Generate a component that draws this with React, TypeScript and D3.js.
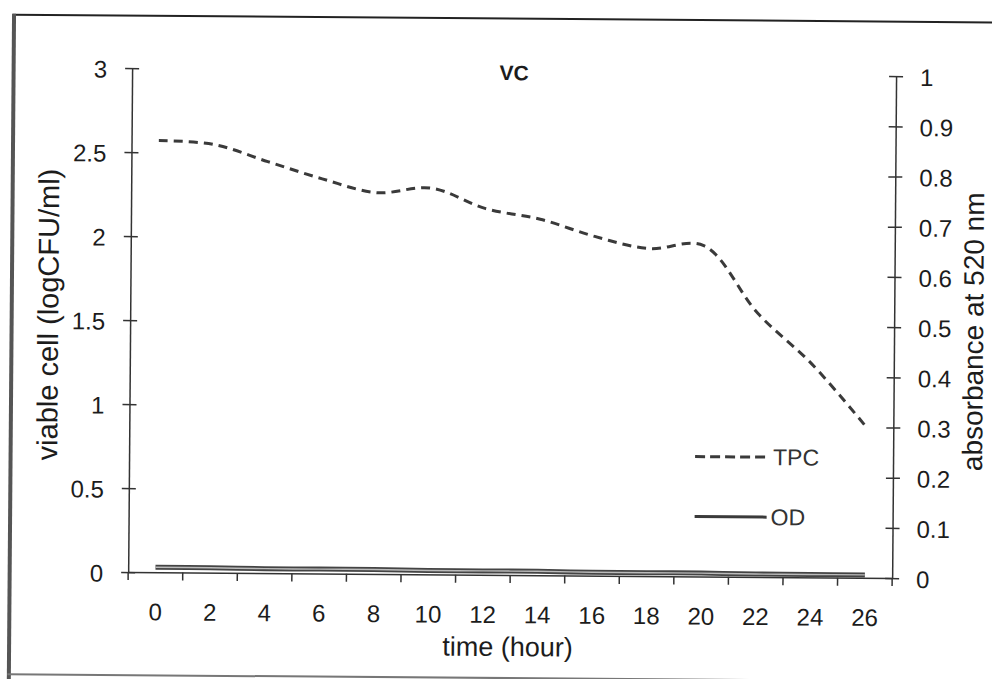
import React, { useEffect, useRef } from "react";
import * as d3 from "d3";

// time (hour) categories
const hours = [0, 2, 4, 6, 8, 10, 12, 14, 16, 18, 20, 22, 24, 26];
// TPC, viable cell (logCFU/ml), left axis
const tpc = [2.57, 2.55, 2.45, 2.35, 2.27, 2.3, 2.18, 2.12, 2.02, 1.95, 1.97, 1.57, 1.27, 0.9];
// OD, absorbance at 520 nm, right axis
const od = [0.01, 0.01, 0.009, 0.009, 0.009, 0.008, 0.008, 0.008, 0.007, 0.007, 0.007, 0.006, 0.006, 0.006];

const leftTicks = [0, 0.5, 1, 1.5, 2, 2.5, 3];
const rightTicks = [0, 0.1, 0.2, 0.3, 0.4, 0.5, 0.6, 0.7, 0.8, 0.9, 1];

const font = "'Liberation Sans', Arial, sans-serif";
const ink = "#1c1c1c";

export default function App() {
  const svgRef = useRef<SVGSVGElement>(null);

  useEffect(() => {
    const width = 992;
    const height = 679;
    const left = 130;
    const right = 894;
    const bottom = 575;

    const svg = d3.select(svgRef.current);
    svg.selectAll("*").remove();
    svg.attr("width", width).attr("height", height);

    svg.append("rect").attr("width", width).attr("height", height).attr("fill", "#fff");

    // the scanned figure is slightly rotated
    const g = svg.append("g").attr("transform", "rotate(0.45 496 340)");

    // frame
    g.append("line").attr("x1", 10).attr("x2", 1010).attr("y1", 18.5).attr("y2", 18.5)
      .attr("stroke", "#222").attr("stroke-width", 2);
    g.append("line").attr("x1", 11.5).attr("x2", 11.5).attr("y1", 17.5).attr("y2", 690)
      .attr("stroke", "#555").attr("stroke-width", 4);
    g.append("line").attr("x1", 10).attr("x2", 1010).attr("y1", 678).attr("y2", 678)
      .attr("stroke", "#777").attr("stroke-width", 2);

    const x = d3.scaleBand<string>().domain(hours.map(String)).range([left, right]);
    const bw = x.bandwidth();
    const yL = d3.scaleLinear().domain([0, 3]).range([bottom, 71]);
    const yR = d3.scaleLinear().domain([0, 1]).range([bottom, 73]);

    // left axis
    const gl = g.append("g").attr("transform", `translate(${left},0)`)
      .call(d3.axisLeft(yL).tickValues(leftTicks).tickSize(7).tickSizeOuter(0).tickPadding(18)
        .tickFormat(d3.format("~g")));
    gl.select(".domain").attr("stroke", "#333").attr("stroke-width", 1.5);
    gl.selectAll(".tick line").attr("x1", 7).attr("x2", -7).attr("stroke", "#333").attr("stroke-width", 1.5);
    gl.selectAll(".tick text").attr("font-size", 24).attr("font-family", font).attr("fill", ink).attr("dy", "0.38em");

    // right axis
    const gr = g.append("g").attr("transform", `translate(${right},0)`)
      .call(d3.axisRight(yR).tickValues(rightTicks).tickSize(7).tickSizeOuter(0).tickPadding(17)
        .tickFormat(d3.format("~g")));
    gr.select(".domain").attr("stroke", "#333").attr("stroke-width", 1.5);
    gr.selectAll(".tick line").attr("x1", -7).attr("x2", 7).attr("stroke", "#333").attr("stroke-width", 1.5);
    gr.selectAll(".tick text").attr("font-size", 24).attr("font-family", font).attr("fill", ink).attr("dy", "0.38em");

    // x axis: labels centred, tick marks between categories
    const gx = g.append("g").attr("transform", `translate(0,${bottom})`)
      .call(d3.axisBottom(x).tickSize(0).tickSizeOuter(0).tickPadding(31));
    gx.select(".domain").attr("stroke", "#333").attr("stroke-width", 1.5);
    gx.selectAll(".tick text").attr("font-size", 24).attr("font-family", font).attr("fill", ink);
    const bounds = hours.map((h) => x(String(h)) as number).concat([right]);
    gx.selectAll(".between").data(bounds).join("line").attr("class", "between")
      .attr("x1", (d) => d).attr("x2", (d) => d).attr("y1", 0).attr("y2", 8)
      .attr("stroke", "#333").attr("stroke-width", 1.5);

    const cx = (i: number) => (x(String(hours[i])) as number) + bw / 2;

    // OD line (drawn as a double line)
    const odLine = d3.line<number>().x((_, i) => cx(i)).y((d) => yR(d)).curve(d3.curveCatmullRom.alpha(0.5));
    g.append("path").attr("d", odLine(od)).attr("fill", "none").attr("stroke", "#444").attr("stroke-width", 5);
    g.append("path").attr("d", odLine(od)).attr("fill", "none").attr("stroke", "#bbb").attr("stroke-width", 1.4);

    // TPC line
    const tpcLine = d3.line<number>().x((_, i) => cx(i)).y((d) => yL(d)).curve(d3.curveCatmullRom.alpha(0.5));
    g.append("path").attr("d", tpcLine(tpc)).attr("fill", "none").attr("stroke", "#3a3a3a")
      .attr("stroke-width", 3).attr("stroke-dasharray", "9,6");

    // legend
    const lg = g.append("g").attr("transform", "translate(696,0)");
    lg.append("line").attr("x1", 0).attr("x2", 72).attr("y1", 455).attr("y2", 455)
      .attr("stroke", "#3a3a3a").attr("stroke-width", 3).attr("stroke-dasharray", "10,5");
    lg.append("text").attr("x", 78).attr("y", 463).text("TPC")
      .attr("font-size", 23).attr("font-family", font).attr("fill", "#333");
    lg.append("line").attr("x1", 0).attr("x2", 72).attr("y1", 515).attr("y2", 515)
      .attr("stroke", "#3a3a3a").attr("stroke-width", 3);
    lg.append("text").attr("x", 76).attr("y", 523).text("OD")
      .attr("font-size", 23).attr("font-family", font).attr("fill", "#333");

    // titles
    g.append("text").attr("x", 512).attr("y", 80).attr("text-anchor", "middle")
      .attr("font-size", 21).attr("font-weight", "bold").attr("font-family", font).attr("fill", ink).text("VC");
    g.append("text").attr("x", 510).attr("y", 656).attr("text-anchor", "middle")
      .attr("font-size", 27).attr("font-family", font).attr("fill", ink).text("time (hour)");
    g.append("text").attr("transform", "translate(58,318) rotate(-90)").attr("text-anchor", "middle")
      .attr("font-size", 29).attr("font-family", font).attr("fill", ink).text("viable cell (logCFU/ml)");
    g.append("text").attr("transform", "translate(983,328) rotate(-90)").attr("text-anchor", "middle")
      .attr("font-size", 28).attr("font-family", font).attr("fill", ink).text("absorbance at 520 nm");
  }, []);

  return <svg ref={svgRef} style={{ position: "absolute", left: 0, top: 0 }} />;
}
